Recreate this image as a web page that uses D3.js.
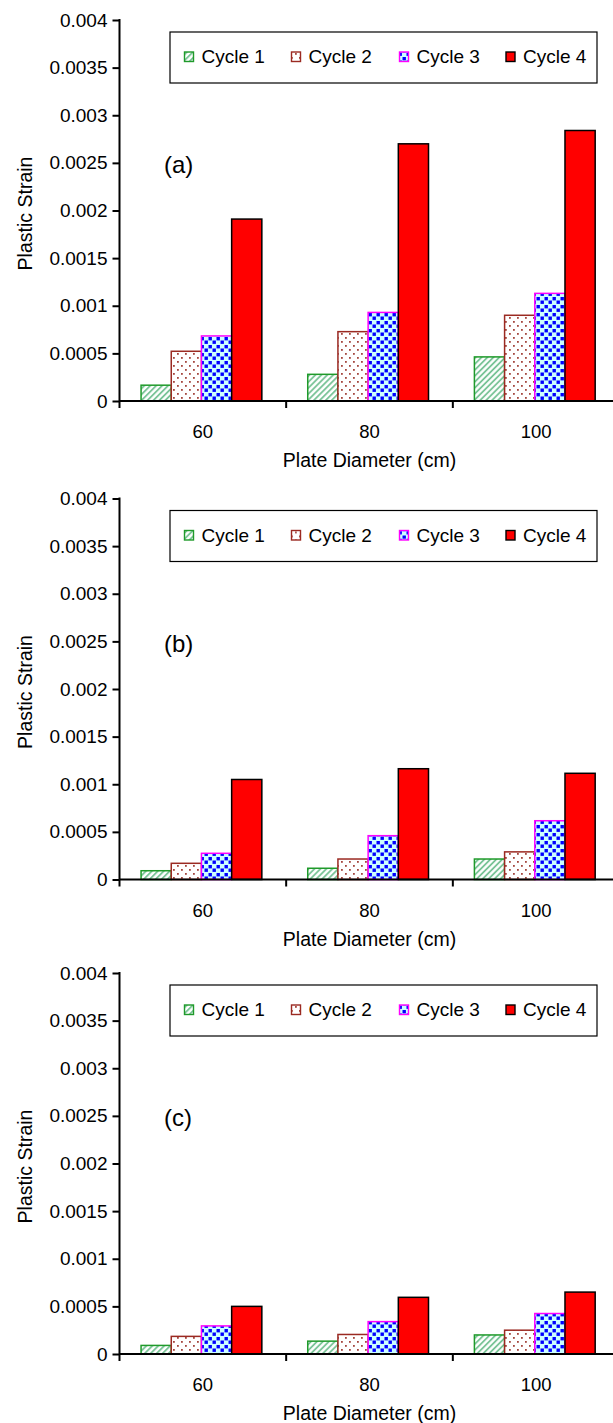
<!DOCTYPE html>
<html>
<head>
<meta charset="utf-8">
<script src="https://cdn.jsdelivr.net/npm/d3@7"></script>
<style>
  body { margin: 0; background: #fff; }
  text { font-family: Arial, "Liberation Sans", sans-serif; fill: #000; }
</style>
</head>
<body>
<svg id="chart" width="613" height="1423"></svg>
<script>
// chart values
const categories = ["60", "80", "100"];
const series = ["Cycle 1", "Cycle 2", "Cycle 3", "Cycle 4"];
const yTicks = [0, 0.0005, 0.001, 0.0015, 0.002, 0.0025, 0.003, 0.0035, 0.004];
const panelLabels = ["(a)", "(b)", "(c)"];

// one row per cycle, one value per plate diameter
const strainA = [
  [0.000166, 0.00028, 0.000463],
  [0.000522, 0.000728, 0.0009],
  [0.000683, 0.00093, 0.00113],
  [0.00191, 0.0027, 0.00284]
];
const strainB = [
  [0.000092, 0.000118, 0.000215],
  [0.00017, 0.000215, 0.00029],
  [0.000275, 0.00046, 0.000617],
  [0.00105, 0.001163, 0.001115]
];
const strainC = [
  [0.00009, 0.000135, 0.0002],
  [0.000185, 0.000205, 0.00025],
  [0.000295, 0.00034, 0.000425],
  [0.0005, 0.000595, 0.00065]
];
const panels = [strainA, strainB, strainC];

const svg = d3.select("#chart");
const font = "Arial, 'Liberation Sans', sans-serif";

// panel placement (top of 0.004, bottom at 0)
const layout = [
  { top: 20, bottom: 401 },
  { top: 498.5, bottom: 879.5 },
  { top: 973, bottom: 1354 }
];
const left = 119.5;
const right = 619.5;

const styles = [
  { fill: "url(#hatch)", stroke: "#1f9a2a" },
  { fill: "url(#dots)", stroke: "#9b2a22" },
  { fill: "url(#confetti)", stroke: "#ff00ff" },
  { fill: "#ff0000", stroke: "#000" }
];

function makePatterns() {
  const defs = svg.append("defs");

  const hatch = defs.append("pattern")
    .attr("id", "hatch")
    .attr("patternUnits", "userSpaceOnUse")
    .attr("width", 4.2)
    .attr("height", 4.2)
    .attr("patternTransform", "rotate(45)");
  hatch.append("rect").attr("width", 4.2).attr("height", 4.2).attr("fill", "#fff");
  hatch.append("line")
    .attr("x1", 1).attr("y1", 0).attr("x2", 1).attr("y2", 4.2)
    .attr("stroke", "#6fbf8f").attr("stroke-width", 1.7);

  const dots = defs.append("pattern")
    .attr("id", "dots")
    .attr("patternUnits", "userSpaceOnUse")
    .attr("width", 8)
    .attr("height", 8);
  dots.append("rect").attr("width", 8).attr("height", 8).attr("fill", "#fff");
  dots.append("rect").attr("x", 1).attr("y", 1).attr("width", 1.8).attr("height", 1.8).attr("fill", "#a5473f");
  dots.append("rect").attr("x", 5).attr("y", 5).attr("width", 1.8).attr("height", 1.8).attr("fill", "#a5473f");

  const conf = defs.append("pattern")
    .attr("id", "confetti")
    .attr("patternUnits", "userSpaceOnUse")
    .attr("width", 8)
    .attr("height", 8);
  conf.append("rect").attr("width", 8).attr("height", 8).attr("fill", "#ccffff");
  conf.append("rect").attr("x", 0.5).attr("y", 1).attr("width", 3.4).attr("height", 3.4).attr("fill", "#0000ff");
  conf.append("rect").attr("x", 4.5).attr("y", 4.5).attr("width", 3.4).attr("height", 3.4).attr("fill", "#0000ff");
}

function drawPanel(values, i) {
  const { top, bottom } = layout[i];
  const g = svg.append("g");

  const y = d3.scaleLinear().domain([0, 0.004]).range([bottom, top]);
  const x0 = d3.scaleBand().domain(categories).range([left, right]);
  const x1 = d3.scaleBand().domain(series).range([0, x0.bandwidth()])
    .paddingInner(0).paddingOuter(0.76).align(0.47);

  // bars
  series.forEach((s, si) => {
    g.append("g")
      .selectAll("rect")
      .data(values[si])
      .join("rect")
      .attr("x", (d, ci) => x0(categories[ci]) + x1(s))
      .attr("y", d => y(d))
      .attr("width", x1.bandwidth())
      .attr("height", d => y(0) - y(d))
      .attr("fill", styles[si].fill)
      .attr("stroke", styles[si].stroke)
      .attr("stroke-width", 1.5);
  });

  // y axis
  const yAxis = d3.axisLeft(y)
    .tickValues(yTicks)
    .tickFormat(d => d === 0 ? "0" : String(+d.toFixed(4)))
    .tickSize(7)
    .tickPadding(5);
  const ya = g.append("g").attr("transform", `translate(${left},0)`).call(yAxis);
  ya.select(".domain").remove();
  ya.selectAll(".tick line").attr("stroke", "#000").attr("stroke-width", 2);
  ya.selectAll(".tick text").attr("font-family", font).attr("font-size", 19).attr("fill", "#000");
  g.append("line")
    .attr("x1", left).attr("x2", left)
    .attr("y1", top - 1).attr("y2", bottom)
    .attr("stroke", "#000").attr("stroke-width", 2);

  // x axis: labels at centres, ticks at category edges
  g.append("line")
    .attr("x1", left).attr("x2", 613)
    .attr("y1", bottom).attr("y2", bottom)
    .attr("stroke", "#000").attr("stroke-width", 2.2);
  g.selectAll(".xtick")
    .data(categories)
    .join("line")
    .attr("x1", d => x0(d)).attr("x2", d => x0(d))
    .attr("y1", bottom).attr("y2", bottom + 7)
    .attr("stroke", "#000").attr("stroke-width", 2);
  g.selectAll(".xlabel")
    .data(categories)
    .join("text")
    .attr("x", d => x0(d) + x0.bandwidth() / 2)
    .attr("y", bottom + 37)
    .attr("text-anchor", "middle")
    .attr("font-size", 18.5)
    .text(d => d);

  g.append("text")
    .attr("x", (left + right) / 2)
    .attr("y", bottom + 66)
    .attr("text-anchor", "middle")
    .attr("font-size", 19.5)
    .text("Plate Diameter (cm)");

  g.append("text")
    .attr("transform", `translate(32,${(top + bottom) / 2 + 3}) rotate(-90)`)
    .attr("text-anchor", "middle")
    .attr("font-size", 19.5)
    .text("Plastic Strain");

  g.append("text")
    .attr("x", 164)
    .attr("y", top + 153)
    .attr("font-size", 24)
    .text(panelLabels[i]);

  // legend
  const lg = g.append("g").attr("transform", `translate(170,${top + 12})`);
  lg.append("rect")
    .attr("width", 427).attr("height", 51)
    .attr("fill", "#fff").attr("stroke", "#000").attr("stroke-width", 1.2);
  const swatchX = [14.5, 121.5, 229.5, 336];
  series.forEach((s, si) => {
    lg.append("rect")
      .attr("x", swatchX[si]).attr("y", 20)
      .attr("width", 9).attr("height", 9.5)
      .attr("fill", styles[si].fill)
      .attr("stroke", styles[si].stroke)
      .attr("stroke-width", 1.4);
    lg.append("text")
      .attr("x", swatchX[si] + 17)
      .attr("y", 31)
      .attr("font-size", 19)
      .text(s);
  });
}

svg.append("rect").attr("width", 613).attr("height", 1423).attr("fill", "#fff");
makePatterns();
panels.forEach((values, i) => drawPanel(values, i));
</script>
</body>
</html>
